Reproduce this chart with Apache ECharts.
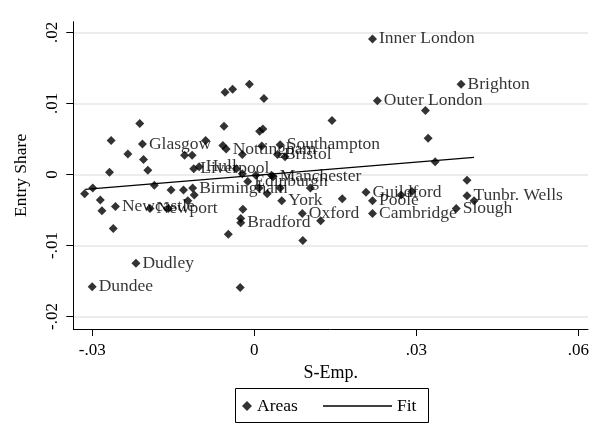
<!DOCTYPE html>
<html><head><meta charset="utf-8">
<script src="https://cdn.jsdelivr.net/npm/echarts@6/dist/echarts.min.js"></script>
<style>html,body{margin:0;padding:0;background:#fff}#c{width:598px;height:426px}</style>
</head><body><div id="c"></div>
<script>
const areaNames = ["Inner London","Brighton","Outer London","","","","","","","Southampton",
 "","Bristol","","","","","","","","",
 "Glasgow","","","Nottingham","","","","","","",
 "Liverpool","Hull","","","","","","","","Birmingham",
 "","","Edinburgh","","","Newcastle","Newport","","","",
 "","Bradford","","Dudley","Dundee","","","","","",
 "","","York","Manchester","","","Guildford","Poole","Cambridge","Oxford",
 "","","","","","Tunbr. Wells","","Slough"];
const sEmp = [0.0219,0.0383,0.0228,0.0317,0.0018,0.0144,0.0016,0.0010,0.0322,0.0048,
 0.0014,0.0043,0.0057,0.0335,-0.0054,-0.0040,-0.0009,-0.0212,-0.0056,-0.0265,
 -0.0207,-0.0090,-0.0058,-0.0052,-0.0234,-0.0205,-0.0129,-0.0115,-0.0197,-0.0268,
 -0.0112,-0.0102,-0.0033,-0.0022,-0.0314,-0.0299,-0.0185,-0.0154,-0.0131,-0.0114,
 -0.0111,-0.0123,-0.0012,-0.0285,-0.0282,-0.0257,-0.0193,-0.0159,-0.0261,-0.0021,
 -0.0025,-0.0025,-0.0048,-0.0219,-0.0300,-0.0026,-0.0022,0.0032,0.0003,0.0009,
 0.0024,0.0048,0.0051,0.0035,0.0104,0.0163,0.0207,0.0219,0.0219,0.0089,
 0.0123,0.0090,0.0272,0.0292,0.0394,0.0394,0.0407,0.0374];
const entryShare = [0.0191,0.0127,0.0104,0.0090,0.0107,0.0076,0.0064,0.0061,0.0051,0.0042,
 0.0040,0.0028,0.0025,0.0018,0.0116,0.0120,0.0127,0.0072,0.0068,0.0048,
 0.0043,0.0048,0.0041,0.0036,0.0029,0.0021,0.0027,0.0027,0.0006,0.0003,
 0.0008,0.0011,0.0008,0.0001,-0.0027,-0.0019,-0.0015,-0.0022,-0.0022,-0.0019,
 -0.0029,-0.0037,-0.0010,-0.0036,-0.0051,-0.0045,-0.0048,-0.0048,-0.0076,-0.0049,
 -0.0062,-0.0068,-0.0084,-0.0125,-0.0158,-0.0159,0.0028,-0.0001,-0.0001,-0.0019,
 -0.0027,-0.0019,-0.0037,-0.0003,-0.0019,-0.0034,-0.0025,-0.0037,-0.0055,-0.0055,
 -0.0065,-0.0093,-0.0029,-0.0024,-0.0008,-0.0030,-0.0037,-0.0048];
const fitX = [-0.0313, 0.0407];
const fitY = [-0.0021, 0.0024];
const xTickVals = [-0.03, 0, 0.03, 0.06];
const xTickLabels = ["-.03", "0", ".03", ".06"];
const yTickVals = [-0.02, -0.01, 0, 0.01, 0.02];
const yTickLabels = ["-.02", "-.01", "0", ".01", ".02"];

const FONT = "Liberation Serif";
function lookup(vals, labels, v) {
  let best = 0;
  for (let i = 1; i < vals.length; i++) if (Math.abs(vals[i]-v) < Math.abs(vals[best]-v)) best = i;
  return labels[best];
}
const scatterData = sEmp.map((x, i) => ({
  value: [x, entryShare[i]], name: areaNames[i],
  label: { show: areaNames[i] !== "" }
}));
const fitData = fitX.map((x, i) => [x, fitY[i]]);

const chart = echarts.init(document.getElementById('c'), null, { renderer: 'canvas' });
chart.setOption({
  animation: false,
  backgroundColor: '#fff',
  textStyle: { fontFamily: FONT },
  grid: { left: 73.3, right: 10, top: 21.7, bottom: 97, containLabel: false },
  xAxis: {
    type: 'value', min: -0.0335, max: 0.0618,
    name: 'S-Emp.', nameLocation: 'middle', nameGap: 32,
    nameTextStyle: { fontFamily: FONT, fontSize: 18, color: '#000' },
    axisLine: { onZero: false, lineStyle: { color: '#000', width: 1 } },
    axisTick: { show: true, length: 7, inside: false, customValues: xTickVals, lineStyle: { color: '#000' } },
    axisLabel: { customValues: xTickVals, margin: 13, fontFamily: FONT, fontSize: 17, color: '#000',
      formatter: v => lookup(xTickVals, xTickLabels, v) },
    splitLine: { show: false }
  },
  yAxis: {
    type: 'value', min: -0.02176, max: 0.02152,
    name: 'Entry Share', nameLocation: 'middle', nameGap: 43, nameRotate: 90,
    nameTextStyle: { fontFamily: FONT, fontSize: 17.5, color: '#000' },
    axisLine: { show: true, onZero: false, lineStyle: { color: '#000', width: 1 } },
    axisTick: { show: true, length: 7, inside: false, customValues: yTickVals, lineStyle: { color: '#000' } },
    axisLabel: { customValues: yTickVals, rotate: 90, margin: 12, fontFamily: FONT, fontSize: 17, color: '#000',
      formatter: v => lookup(yTickVals, yTickLabels, v) },
    splitLine: { show: true, lineStyle: { color: '#e6e6e6', width: 1.5 } }
  },
  legend: [
    { data: [{ name: 'Areas', icon: 'diamond' }], left: 242, top: 397, padding: 0, itemWidth: 10, itemHeight: 10, itemGap: 0,
      textStyle: { fontFamily: FONT, fontSize: 17.5, color: '#000' } },
    { data: [{ name: 'Fit', icon: 'rect' }], left: 323, top: 397, padding: 0, itemWidth: 69, itemHeight: 1.4, itemGap: 0,
      itemStyle: { color: '#000' },
      textStyle: { fontFamily: FONT, fontSize: 17.5, color: '#000' } }
  ],
  graphic: [
    { type: 'rect', shape: { x: 235.5, y: 388.5, width: 193, height: 34 },
      style: { fill: 'none', stroke: '#000', lineWidth: 1 }, z: 100 }
  ],
  series: [
    { name: 'Areas', type: 'scatter', symbol: 'diamond', symbolSize: 9,
      itemStyle: { color: '#000' },
      label: { position: 'right', distance: 2, formatter: p => p.name,
        fontFamily: FONT, fontSize: 17.5, color: '#000' },
      data: scatterData, z: 3 },
    { name: 'Fit', type: 'line', symbol: 'none', showSymbol: false,
      lineStyle: { color: '#000', width: 1.3 }, itemStyle: { color: '#000' },
      data: fitData, z: 4 }
  ]
});
</script></body></html>
